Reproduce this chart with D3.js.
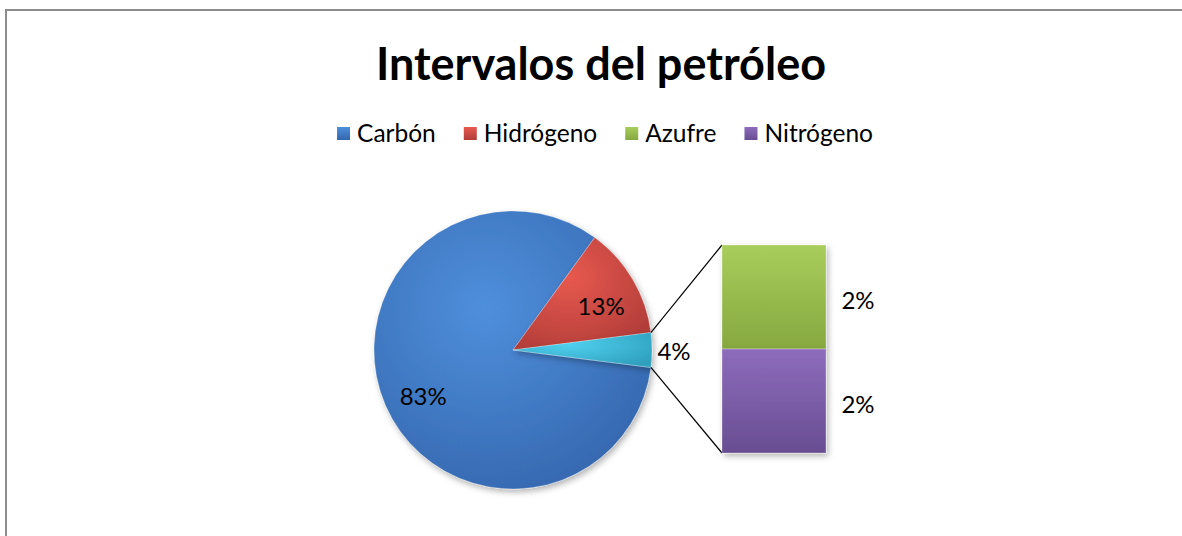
<!DOCTYPE html>
<html>
<head>
<meta charset="utf-8">
<script src="https://cdn.jsdelivr.net/npm/d3@7"></script>
<style>
  body { margin: 0; background: #fff; }
  text { font-family: Lato, "Open Sans", sans-serif; }
</style>
</head>
<body>
<script>
// Chart data
var title = 'Intervalos del petróleo';
var pie_names = ['Carbón', 'Hidrógeno', 'Otros'];
var pie_values = [83, 13, 4];
var bar_names = ['Azufre', 'Nitrógeno'];
var bar_values = [2, 2];
var legend_names = ['Carbón', 'Hidrógeno', 'Azufre', 'Nitrógeno'];

var colors = {
    'Carbón'    : ['#4f8fdc', '#3466ad'],
    'Hidrógeno' : ['#e8594f', '#b03c38'],
    'Otros'     : ['#4fd0ee', '#2e9fbd'],
    'Azufre'    : ['#a9cd5c', '#86a83f'],
    'Nitrógeno' : ['#8d6cbc', '#684d92']
};

var width = 1182, height = 536;

var svg = d3.select('body').append('svg')
    .attr('width', width)
    .attr('height', height);

var defs = svg.append('defs');

// gradients for a bit of the office bevel look
Object.keys(colors).forEach(function (k, i) {
    var g = defs.append('radialGradient')
        .attr('id', 'rg' + i)
        .attr('cx', '40%').attr('cy', '35%').attr('r', '75%');
    g.append('stop').attr('offset', '0%').attr('stop-color', colors[k][0]);
    g.append('stop').attr('offset', '100%').attr('stop-color', colors[k][1]);
    var l = defs.append('linearGradient')
        .attr('id', 'lg' + i)
        .attr('x1', 0).attr('y1', 0).attr('x2', 0).attr('y2', 1);
    l.append('stop').attr('offset', '0%').attr('stop-color', colors[k][0]);
    l.append('stop').attr('offset', '100%').attr('stop-color', colors[k][1]);
});
function grad(name, type) {
    return 'url(#' + type + Object.keys(colors).indexOf(name) + ')';
}

var shadow = defs.append('filter').attr('id', 'shadow')
    .attr('x', '-10%').attr('y', '-10%').attr('width', '130%').attr('height', '130%');
shadow.append('feDropShadow')
    .attr('dx', 2).attr('dy', 3).attr('stdDeviation', 3)
    .attr('flood-color', '#000').attr('flood-opacity', 0.3);

// chart border (right and bottom run off the picture)
svg.append('rect')
    .attr('x', 6).attr('y', 10)
    .attr('width', width + 20).attr('height', height + 20)
    .attr('fill', 'none')
    .attr('stroke', '#8c8c8c')
    .attr('stroke-width', 2);

// Title
svg.append('text')
    .attr('x', 601).attr('y', 80)
    .attr('text-anchor', 'middle')
    .attr('font-size', 45)
    .attr('font-weight', 'bold')
    .text(title);

// Legend, laid out from measured text widths
var legend = svg.append('g');
var lx = 0;
legend_names.forEach(function (d) {
    var g = legend.append('g').attr('transform', 'translate(' + lx + ',0)');
    g.append('rect')
        .attr('y', 127)
        .attr('width', 13).attr('height', 13)
        .attr('fill', grad(d, 'lg'));
    var t = g.append('text')
        .attr('x', 20).attr('y', 142)
        .attr('font-size', 24.5)
        .text(d);
    lx += 20 + t.node().getComputedTextLength() + 28;
});
lx -= 28;
legend.attr('transform', 'translate(' + (605 - lx / 2) + ',0)');

// Pie
var cx = 513, cy = 350, r = 139;
var total = d3.sum(pie_values);
var start = Math.PI / 2 + Math.PI * pie_values[2] / total;
var pie = d3.pie().sort(null)
    .startAngle(start).endAngle(start + 2 * Math.PI);
var arcs = pie(pie_values);
var arc = d3.arc().innerRadius(0).outerRadius(r);
var label_arc = d3.arc().innerRadius(100).outerRadius(100);

var pg = svg.append('g')
    .attr('transform', 'translate(' + cx + ',' + cy + ')');
pg.selectAll('path')
    .data(arcs).enter()
    .append('path')
    .attr('d', arc)
    .attr('fill', function (d, i) { return grad(pie_names[i], 'rg'); })
    .attr('stroke', 'rgba(255,255,255,0.25)')
    .attr('stroke-width', 1)
    .attr('filter', 'url(#shadow)');

pg.selectAll('text')
    .data(arcs).enter()
    .append('text')
    .attr('transform', function (d, i) {
        if (i === 2) { return 'translate(' + (r + 22) + ',2)'; }
        var c = label_arc.centroid(d);
        return 'translate(' + (c[0] + 2) + ',' + (c[1] + 7) + ')';
    })
    .attr('text-anchor', 'middle')
    .attr('dy', '0.35em')
    .attr('font-size', 24)
    .text(function (d) { return d.value + '%'; });

// Stacked bar of the small slice
var bar_x = d3.scaleLinear().domain([0, 1]).range([722, 826]);
var bar_y = d3.scaleLinear().domain([0, d3.sum(bar_values)]).range([453, 245]);
var stack = [];
var acc = d3.sum(bar_values);
bar_values.forEach(function (v, i) {
    stack.push({ name : bar_names[i], value : v, y0 : acc - v, y1 : acc });
    acc -= v;
});

// connector lines
var other = arcs[2];
var p_top = [cx + r * Math.sin(other.startAngle), cy - r * Math.cos(other.startAngle)];
var p_bot = [cx + r * Math.sin(other.endAngle), cy - r * Math.cos(other.endAngle)];
svg.append('line')
    .attr('x1', p_top[0]).attr('y1', p_top[1])
    .attr('x2', bar_x(0)).attr('y2', bar_y(d3.sum(bar_values)))
    .attr('stroke', '#000').attr('stroke-width', 1.2);
svg.append('line')
    .attr('x1', p_bot[0]).attr('y1', p_bot[1])
    .attr('x2', bar_x(0)).attr('y2', bar_y(0))
    .attr('stroke', '#000').attr('stroke-width', 1.2);

svg.selectAll('rect.bar')
    .data(stack).enter()
    .append('rect')
    .attr('class', 'bar')
    .attr('x', bar_x(0))
    .attr('y', function (d) { return bar_y(d.y1); })
    .attr('width', bar_x(1) - bar_x(0))
    .attr('height', function (d) { return bar_y(d.y0) - bar_y(d.y1); })
    .attr('fill', function (d) { return grad(d.name, 'lg'); })
    .attr('stroke', 'rgba(255,255,255,0.3)')
    .attr('filter', 'url(#shadow)');

svg.selectAll('text.bar_label')
    .data(stack).enter()
    .append('text')
    .attr('class', 'bar_label')
    .attr('x', 858)
    .attr('y', function (d) { return bar_y((d.y0 + d.y1) / 2) + 4; })
    .attr('dy', '0.35em')
    .attr('text-anchor', 'middle')
    .attr('font-size', 24)
    .text(function (d) { return d.value + '%'; });
</script>
</body>
</html>
